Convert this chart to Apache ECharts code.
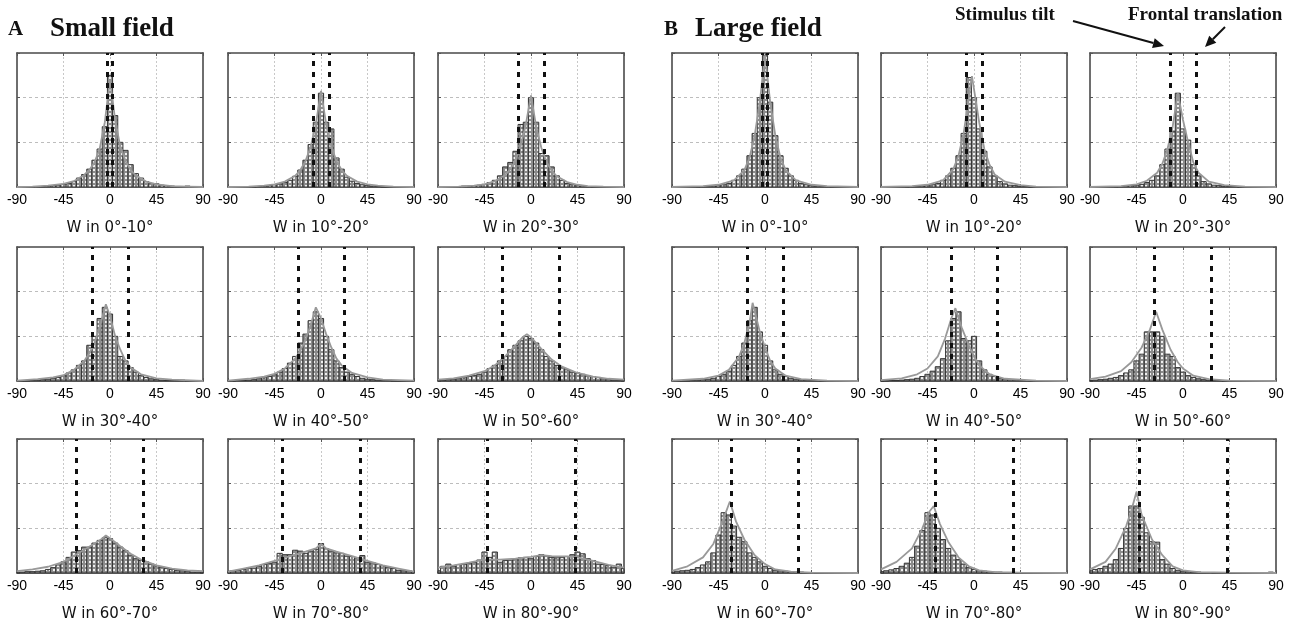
<!DOCTYPE html>
<html><head><meta charset="utf-8">
<script src="https://cdn.jsdelivr.net/npm/echarts@6/dist/echarts.min.js"></script>
<style>html,body{margin:0;padding:0;background:#fff}#c{width:1298px;height:629px}</style>
</head><body><div id="c"></div>
<script>
// ---------- data ----------
const binCenters = [-90,-85,-80,-75,-70,-65,-60,-55,-50,-45,-40,-35,-30,-25,-20,-15,-10,-5,0,5,10,15,20,25,30,35,40,45,50,55,60,65,70,75,80,85,90];
const tickValues = [-90,-45,0,45,90];
const panelTitles = ['W in 0°-10°','W in 10°-20°','W in 20°-30°','W in 30°-40°','W in 40°-50°','W in 50°-60°','W in 60°-70°','W in 70°-80°','W in 80°-90°'];
// dashed reference lines: stimulus tilt (negative) and frontal translation (positive)
const tiltLines = [-2.5,-7.5,-12.5,-17.5,-22.5,-27.5,-32.5,-37.5,-42.5];
const frontalLines = [2.5,7.5,12.5,17.5,22.5,27.5,32.5,37.5,42.5];

// Small field histograms (normalised height, box = 3)
const smallHist0_10  = [0,0,0,0,0.01,0.01,0.02,0.03,0.04,0.06,0.08,0.12,0.2,0.28,0.4,0.6,0.85,1.35,2.5,1.6,1.0,0.82,0.5,0.3,0.2,0.12,0.08,0.07,0.04,0.03,0.02,0.01,0.01,0.02,0,0,0];
const smallHist10_20 = [0,0,0,0,0,0,0.01,0.02,0.03,0.05,0.07,0.1,0.15,0.24,0.38,0.6,0.95,1.45,2.1,1.45,1.3,0.65,0.4,0.22,0.13,0.08,0.05,0.03,0.02,0.01,0,0,0,0,0,0,0];
const smallHist20_30 = [0,0,0,0,0,0.02,0.02,0.03,0.04,0.06,0.1,0.15,0.25,0.45,0.55,0.8,1.4,1.45,2.0,1.45,0.75,0.7,0.45,0.25,0.15,0.08,0.05,0.03,0.02,0.01,0,0,0,0,0,0,0];
const smallHist30_40 = [0,0,0,0.01,0.02,0.03,0.04,0.06,0.08,0.12,0.18,0.25,0.35,0.45,0.8,1.0,1.4,1.65,1.5,1.0,0.55,0.45,0.3,0.2,0.12,0.08,0.05,0.03,0.02,0.01,0.01,0.01,0.02,0,0,0,0];
const smallHist40_50 = [0,0,0.01,0.01,0.02,0.03,0.05,0.07,0.1,0.14,0.2,0.28,0.4,0.55,0.85,1.05,1.35,1.55,1.4,1.0,0.7,0.45,0.3,0.2,0.15,0.1,0.06,0.04,0.03,0.02,0.01,0.01,0,0,0,0,0];
const smallHist50_60 = [0.01,0.02,0.03,0.04,0.05,0.07,0.1,0.12,0.15,0.2,0.28,0.35,0.45,0.55,0.7,0.8,0.9,1.0,0.95,0.85,0.7,0.55,0.45,0.35,0.3,0.25,0.2,0.18,0.15,0.12,0.1,0.08,0.05,0.04,0.02,0.01,0.01];
const smallHist60_70 = [0.02,0.02,0.03,0.03,0.04,0.05,0.08,0.12,0.18,0.25,0.35,0.47,0.5,0.58,0.58,0.67,0.73,0.79,0.77,0.67,0.58,0.5,0.4,0.32,0.28,0.25,0.2,0.16,0.13,0.1,0.08,0.06,0.05,0.04,0.02,0.02,0.02];
const smallHist70_80 = [0.04,0.05,0.06,0.08,0.11,0.11,0.15,0.19,0.21,0.24,0.44,0.41,0.41,0.51,0.49,0.44,0.49,0.53,0.66,0.54,0.49,0.45,0.44,0.38,0.37,0.34,0.39,0.24,0.23,0.19,0.16,0.13,0.1,0.06,0.05,0.05,0.03];
const smallHist80_90 = [0.05,0.15,0.2,0.15,0.19,0.2,0.22,0.24,0.29,0.47,0.35,0.47,0.24,0.28,0.29,0.32,0.34,0.35,0.32,0.37,0.41,0.39,0.35,0.34,0.35,0.37,0.41,0.47,0.43,0.32,0.28,0.2,0.19,0.17,0.13,0.2,0.1];
// Small field fitted curves [angle, height]
const smallFit0_10  = [[-90,0],[-75,0.01],[-60,0.03],[-45,0.07],[-35,0.13],[-25,0.27],[-20,0.38],[-15,0.55],[-10,0.85],[-5,1.45],[0,2.4],[5,1.5],[10,0.9],[15,0.58],[20,0.38],[25,0.26],[35,0.12],[45,0.06],[60,0.02],[75,0.01],[90,0]];
const smallFit10_20 = [[-90,0],[-70,0.01],[-55,0.03],[-45,0.06],[-35,0.12],[-25,0.25],[-20,0.38],[-15,0.58],[-10,0.9],[-5,1.4],[0,2.15],[5,1.4],[10,0.9],[15,0.58],[20,0.38],[25,0.25],[35,0.12],[45,0.06],[55,0.03],[70,0.01],[90,0]];
const smallFit20_30 = [[-90,0],[-70,0.01],[-55,0.03],[-45,0.06],[-35,0.13],[-25,0.27],[-20,0.4],[-15,0.6],[-10,0.92],[-5,1.4],[0,2.05],[5,1.35],[10,0.88],[15,0.56],[20,0.37],[25,0.24],[35,0.11],[45,0.05],[55,0.02],[70,0.01],[90,0]];
const smallFit30_40 = [[-90,0.01],[-70,0.04],[-55,0.08],[-45,0.13],[-35,0.25],[-25,0.45],[-20,0.62],[-15,0.85],[-10,1.2],[-4,1.72],[0,1.45],[5,1.0],[10,0.7],[15,0.45],[20,0.3],[30,0.15],[45,0.06],[60,0.03],[90,0]];
const smallFit40_50 = [[-90,0.01],[-70,0.05],[-55,0.1],[-45,0.16],[-35,0.28],[-25,0.5],[-20,0.68],[-15,0.92],[-10,1.25],[-5,1.65],[0,1.4],[5,1.05],[10,0.75],[15,0.5],[20,0.35],[30,0.18],[45,0.08],[60,0.03],[90,0.01]];
const smallFit50_60 = [[-90,0.03],[-75,0.06],[-60,0.12],[-45,0.22],[-35,0.35],[-25,0.55],[-15,0.8],[-8,0.98],[-4,1.05],[0,0.98],[10,0.72],[20,0.48],[30,0.32],[45,0.18],[60,0.1],[75,0.05],[90,0.03]];
const smallFit60_70 = [[-90,0.04],[-75,0.08],[-60,0.14],[-45,0.25],[-35,0.38],[-25,0.52],[-15,0.66],[-8,0.76],[-4,0.84],[0,0.78],[10,0.6],[20,0.43],[30,0.3],[45,0.17],[60,0.1],[75,0.06],[90,0.04]];
const smallFit70_80 = [[-90,0.03],[-75,0.1],[-60,0.17],[-45,0.27],[-30,0.38],[-15,0.48],[-5,0.55],[0,0.65],[5,0.55],[15,0.48],[30,0.38],[45,0.27],[60,0.17],[75,0.1],[90,0.03]];
const smallFit80_90 = [[-90,0.12],[-75,0.17],[-60,0.23],[-45,0.3],[-30,0.3],[-15,0.32],[0,0.36],[10,0.4],[20,0.38],[35,0.37],[45,0.35],[60,0.27],[75,0.18],[90,0.12]];

// Large field histograms
const largeHist0_10  = [0,0,0,0,0,0,0.01,0.01,0.02,0.03,0.05,0.08,0.15,0.25,0.4,0.7,1.2,2.0,2.95,1.9,1.15,0.7,0.42,0.25,0.15,0.08,0.05,0.03,0.02,0.01,0.01,0,0,0,0,0,0];
const largeHist10_20 = [0,0,0,0,0,0,0.01,0.01,0.02,0.03,0.05,0.08,0.15,0.25,0.42,0.7,1.2,2.45,2.0,1.3,0.8,0.45,0.25,0.12,0.07,0.04,0.03,0.02,0.01,0,0,0,0,0,0,0,0];
const largeHist20_30 = [0,0,0,0,0,0,0.01,0.02,0.03,0.04,0.06,0.1,0.15,0.25,0.5,0.85,1.25,2.1,1.3,1.05,0.5,0.25,0.12,0.07,0.04,0.03,0.02,0.01,0.01,0,0,0,0,0,0,0,0];
const largeHist30_40 = [0,0,0,0,0.01,0.02,0.03,0.04,0.06,0.1,0.15,0.22,0.35,0.55,0.85,1.35,1.65,1.1,0.8,0.45,0.25,0.15,0.1,0.06,0.04,0.03,0.02,0.01,0.01,0,0,0,0,0,0,0,0];
const largeHist40_50 = [0,0,0.01,0.01,0.02,0.03,0.04,0.06,0.1,0.15,0.22,0.32,0.5,0.9,1.4,1.55,0.95,0.9,1.0,0.45,0.25,0.15,0.1,0.06,0.04,0.03,0.02,0.01,0.01,0,0,0,0,0,0,0,0];
const largeHist50_60 = [0.01,0.02,0.03,0.04,0.06,0.08,0.12,0.18,0.25,0.45,0.6,1.1,1.1,1.1,1.0,0.6,0.55,0.3,0.2,0.12,0.08,0.05,0.03,0.02,0.01,0.01,0,0,0,0,0,0,0,0,0,0,0];
const largeHist60_70 = [0.02,0.04,0.05,0.06,0.08,0.12,0.18,0.25,0.45,0.85,1.35,1.3,1.05,0.8,0.7,0.45,0.35,0.25,0.15,0.1,0.06,0.05,0.04,0.03,0.02,0.02,0.01,0.01,0,0,0,0,0,0,0,0,0];
const largeHist70_80 = [0.03,0.05,0.07,0.1,0.15,0.22,0.35,0.6,0.95,1.35,1.3,1.0,0.75,0.55,0.4,0.3,0.2,0.12,0.08,0.05,0.04,0.03,0.02,0.02,0.01,0.01,0,0,0,0,0,0,0,0,0,0,0];
const largeHist80_90 = [0.05,0.08,0.1,0.15,0.2,0.3,0.55,1.0,1.5,1.5,1.25,0.9,0.7,0.69,0.3,0.2,0.1,0.06,0.04,0.03,0.02,0.02,0.01,0.01,0,0,0,0,0,0,0,0,0,0,0,0.02,0];
// Large field fitted curves
const largeFit0_10  = [[-90,0],[-60,0.02],[-45,0.05],[-30,0.15],[-20,0.38],[-15,0.65],[-10,1.15],[-5,1.9],[0,2.95],[5,1.9],[10,1.15],[15,0.65],[20,0.38],[30,0.15],[45,0.05],[60,0.02],[90,0]];
const largeFit10_20 = [[-90,0],[-60,0.02],[-45,0.05],[-30,0.15],[-20,0.4],[-15,0.7],[-10,1.2],[-2,2.48],[5,1.45],[10,0.85],[15,0.5],[20,0.28],[30,0.12],[45,0.04],[60,0.01],[90,0]];
const largeFit20_30 = [[-90,0],[-60,0.02],[-45,0.06],[-35,0.14],[-25,0.32],[-20,0.52],[-15,0.85],[-10,1.35],[-5,2.1],[0,1.5],[5,1.0],[10,0.55],[15,0.32],[25,0.12],[40,0.04],[60,0.01],[90,0]];
const largeFit30_40 = [[-90,0.01],[-60,0.05],[-45,0.12],[-35,0.25],[-25,0.55],[-20,0.85],[-15,1.3],[-12,1.75],[-5,1.1],[0,0.75],[5,0.45],[10,0.28],[20,0.12],[35,0.04],[60,0.01],[90,0]];
const largeFit40_50 = [[-90,0.02],[-70,0.06],[-55,0.15],[-45,0.28],[-35,0.55],[-28,0.95],[-22,1.4],[-18,1.63],[-12,1.2],[-5,0.8],[0,0.55],[5,0.35],[15,0.15],[30,0.05],[60,0.01],[90,0]];
const largeFit50_60 = [[-90,0.04],[-75,0.1],[-60,0.22],[-50,0.42],[-40,0.75],[-32,1.15],[-26,1.55],[-20,1.15],[-12,0.7],[-5,0.42],[0,0.28],[10,0.12],[25,0.04],[45,0.01],[90,0]];
const largeFit60_70 = [[-90,0.05],[-75,0.15],[-60,0.35],[-50,0.65],[-42,1.1],[-34,1.6],[-28,1.15],[-20,0.75],[-10,0.4],[0,0.2],[10,0.08],[25,0.03],[45,0.01],[90,0]];
const largeFit70_80 = [[-90,0.08],[-75,0.25],[-60,0.55],[-50,1.0],[-44,1.35],[-39,1.5],[-33,1.1],[-25,0.7],[-15,0.35],[-5,0.15],[5,0.06],[20,0.02],[45,0.01],[90,0]];
const largeFit80_90 = [[-90,0.08],[-75,0.25],[-65,0.55],[-55,1.05],[-50,1.4],[-45,1.82],[-40,1.3],[-30,0.75],[-20,0.4],[-10,0.15],[0,0.06],[15,0.02],[45,0.01],[90,0]];

const smallHists = [smallHist0_10,smallHist10_20,smallHist20_30,smallHist30_40,smallHist40_50,smallHist50_60,smallHist60_70,smallHist70_80,smallHist80_90];
const smallFits  = [smallFit0_10,smallFit10_20,smallFit20_30,smallFit30_40,smallFit40_50,smallFit50_60,smallFit60_70,smallFit70_80,smallFit80_90];
const largeHists = [largeHist0_10,largeHist10_20,largeHist20_30,largeHist30_40,largeHist40_50,largeHist50_60,largeHist60_70,largeHist70_80,largeHist80_90];
const largeFits  = [largeFit0_10,largeFit10_20,largeFit20_30,largeFit30_40,largeFit40_50,largeFit50_60,largeFit60_70,largeFit70_80,largeFit80_90];

// ---------- layout ----------
const colLeft = [17,228,438,672,881,1090];
const rowTop = [53,247,439];
const PW = 186, PH = 134, BIN = 5;

// hatch pattern
const pc = document.createElement('canvas'); pc.width = 4; pc.height = 4;
const g = pc.getContext('2d');
g.fillStyle = '#8c8c8c'; g.fillRect(0,0,4,4);
g.fillStyle = '#efefef'; g.fillRect(1,1,2,2);
const hatch = {image: pc, repeat: 'repeat'};

const grids = [], xAxes = [], yAxes = [], series = [], graphics = [];
const axisCol = '#4a4a4a';
[ [smallHists, smallFits], [largeHists, largeFits] ].forEach(([hists, fits], f) => {
  for (let k = 0; k < 9; k++) {
    const r = Math.floor(k / 3), c = k % 3;
    const gi = grids.length;
    const left = colLeft[f * 3 + c], top = rowTop[r];
    grids.push({left, top, width: PW, height: PH, outerBoundsMode: 'none', containLabel: false});
    const xBase = {gridIndex: gi, type: 'value', min: -90, max: 90, interval: 45,
      axisLine: {show: true, onZero: false, lineStyle: {color: axisCol, width: 1.6}},
      axisTick: {show: true, inside: true, length: 3, lineStyle: {color: '#555'}}};
    xAxes.push(Object.assign({}, xBase, {position: 'bottom',
      axisLabel: {show: true, margin: 6, fontSize: 14, color: '#000', fontFamily: 'Liberation Sans',
        formatter: v => tickValues.includes(v) ? String(v) : ''},
      splitLine: {show: true, showMinLine: false, showMaxLine: false, lineStyle: {color: '#c8c8c8', type: [2,2], width: 1}}}));
    xAxes.push(Object.assign({}, xBase, {position: 'top', axisLabel: {show: false}, splitLine: {show: false}}));
    const yBase = {gridIndex: gi, type: 'value', min: 0, max: 3, interval: 1,
      axisLine: {show: true, onZero: false, lineStyle: {color: axisCol, width: 1.6}},
      axisTick: {show: true, inside: true, length: 3, lineStyle: {color: '#555'}},
      axisLabel: {show: false}};
    yAxes.push(Object.assign({}, yBase, {position: 'left',
      splitLine: {show: true, showMinLine: false, showMaxLine: false, lineStyle: {color: '#bdbdbd', type: [3,3], width: 1}}}));
    yAxes.push(Object.assign({}, yBase, {position: 'right', splitLine: {show: false}}));
    const xi = gi * 2, yi = gi * 2;
    series.push({
      type: 'custom', xAxisIndex: xi, yAxisIndex: yi, z: 2,
      data: binCenters.map((x, i) => [x, hists[k][i]]),
      renderItem: (params, api) => {
        const x = api.value(0), y = api.value(1);
        const a = Math.max(-90, x - BIN / 2), b = Math.min(90, x + BIN / 2);
        const p0 = api.coord([a, 0]), p1 = api.coord([b, y]);
        return {type: 'rect', shape: {x: p0[0], y: p1[1], width: p1[0] - p0[0], height: p0[1] - p1[1]},
          style: {fill: hatch, stroke: '#333', lineWidth: 1}};
      }
    });
    series.push({
      type: 'line', xAxisIndex: xi, yAxisIndex: yi, z: 3, data: fits[k], showSymbol: false, silent: true,
      lineStyle: {color: '#999', width: 1.8},
      markLine: {symbol: 'none', silent: true, label: {show: false},
        lineStyle: {color: '#111', type: [5, 6], width: 3},
        data: [{xAxis: tiltLines[k]}, {xAxis: frontalLines[k]}]}
    });
    graphics.push({type: 'text', x: left + PW / 2, y: top + PH + 41,
      style: {text: panelTitles[k], font: '15px "DejaVu Sans"', fill: '#111', align: 'center', verticalAlign: 'middle'}});
  }
});

// headings & annotations
const serif = '"Liberation Serif", serif';
graphics.push({type: 'text', x: 8, y: 30, style: {text: 'A', font: 'bold 21px ' + serif, fill: '#111', verticalAlign: 'middle'}});
graphics.push({type: 'text', x: 50, y: 29, style: {text: 'Small field', font: 'bold 27px ' + serif, fill: '#111', verticalAlign: 'middle'}});
graphics.push({type: 'text', x: 664, y: 30, style: {text: 'B', font: 'bold 21px ' + serif, fill: '#111', verticalAlign: 'middle'}});
graphics.push({type: 'text', x: 695, y: 29, style: {text: 'Large field', font: 'bold 27px ' + serif, fill: '#111', verticalAlign: 'middle'}});
graphics.push({type: 'text', x: 955, y: 15, style: {text: 'Stimulus tilt', font: 'bold 19px ' + serif, fill: '#111', verticalAlign: 'middle'}});
graphics.push({type: 'text', x: 1128, y: 15, style: {text: 'Frontal translation', font: 'bold 19px ' + serif, fill: '#111', verticalAlign: 'middle'}});
function arrow(x1, y1, x2, y2) {
  const ang = Math.atan2(y2 - y1, x2 - x1), L = 11, W = 5;
  const bx = x2 - L * Math.cos(ang), by = y2 - L * Math.sin(ang);
  graphics.push({type: 'line', shape: {x1, y1, x2: bx, y2: by}, style: {stroke: '#111', lineWidth: 2}});
  graphics.push({type: 'polygon', shape: {points: [[x2, y2],
    [bx + W * Math.sin(ang), by - W * Math.cos(ang)], [bx - W * Math.sin(ang), by + W * Math.cos(ang)]]},
    style: {fill: '#111'}});
}
arrow(1073, 21, 1164, 46);
arrow(1225, 27, 1205, 47);

const chart = echarts.init(document.getElementById('c'), null, {renderer: 'canvas'});
chart.setOption({animation: false, backgroundColor: '#fff', grid: grids, xAxis: xAxes, yAxis: yAxes, series, graphic: graphics});
</script></body></html>
